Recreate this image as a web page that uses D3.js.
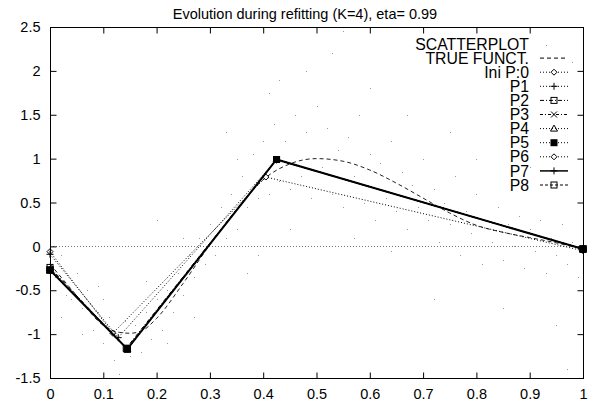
<!DOCTYPE html>
<html><head><meta charset="utf-8">
<script src="https://cdn.jsdelivr.net/npm/d3@7"></script>
<style>
body{margin:0;background:#fff;}
text{font-family:"Liberation Sans",Arial,sans-serif;font-size:14.5px;fill:#000;}
</style></head>
<body><svg id="c" width="597" height="405"></svg>
<script>
const xTicks=[0,0.1,0.2,0.3,0.4,0.5,0.6,0.7,0.8,0.9,1];
const yTicks=[-1.5,-1,-0.5,0,0.5,1,1.5,2,2.5];
const xTickLabels=["0","0.1","0.2","0.3","0.4","0.5","0.6","0.7","0.8","0.9","1"];
const yTickLabels=["-1.5","-1","-0.5","0","0.5","1","1.5","2","2.5"];

const trueX=[0,0.05,0.1,0.13,0.15,0.17,0.2,0.25,0.3,0.35,0.4,0.45,0.5,0.55,0.6,0.65,0.7,0.75,0.8,0.85,0.9,0.95,1.0];
const trueY=[-0.2,-0.56,-0.9,-0.98,-0.99,-0.97,-0.82,-0.42,0.02,0.42,0.76,0.94,1.0,0.97,0.87,0.72,0.55,0.38,0.24,0.16,0.1,0.04,-0.03];

const knotX0=[0,0.118,0.405,1];   const knotY0=[-0.06,-0.99,0.79,-0.05];
const knotX1=[0,0.128,0.425,1];   const knotY1=[-0.09,-1.04,0.985,-0.03];
const knotX2=[0,0.143,0.425,1];   const knotY2=[-0.24,-1.16,0.99,-0.03];
const knotX3=[0,0.144,0.425,1];   const knotY3=[-0.26,-1.165,0.99,-0.03];
const knotX4=[0,0.145,0.425,1];   const knotY4=[-0.27,-1.17,0.99,-0.03];
const knotX5=[0,0.145,0.425,1];   const knotY5=[-0.27,-1.17,0.99,-0.03];
const knotX6=[0,0.145,0.425,1];   const knotY6=[-0.27,-1.17,0.99,-0.03];
const knotX7=[0,0.145,0.425,1];   const knotY7=[-0.27,-1.17,0.99,-0.03];
const knotX8=[0,0.145,0.425,1];   const knotY8=[-0.27,-1.17,0.99,-0.03];

const seriesNames=["Ini P:0","P1","P2","P3","P4","P5","P6","P7","P8"];

const scatterX=[0.01,0.02,0.03,0.04,0.05,0.06,0.07,0.08,0.09,0.1,0.11,0.12,0.13,0.14,0.15,0.02,0.06,0.09,0.13,0.1,
0.16,0.17,0.18,0.19,0.2,0.21,0.22,0.23,0.24,0.25,0.26,0.27,0.28,0.29,0.3,0.18,0.22,0.25,0.27,0.2,
0.31,0.32,0.33,0.34,0.35,0.36,0.37,0.38,0.39,0.4,0.41,0.42,0.43,0.44,0.45,0.46,0.47,0.48,0.49,0.5,0.33,0.37,0.41,0.45,0.48,0.35,0.43,0.39,
0.51,0.52,0.53,0.54,0.55,0.56,0.57,0.58,0.59,0.6,0.61,0.62,0.63,0.64,0.65,0.66,0.67,0.68,0.69,0.7,0.53,0.57,0.6,0.64,0.67,0.55,
0.71,0.72,0.73,0.74,0.75,0.76,0.77,0.78,0.79,0.8,0.81,0.82,0.83,0.84,0.85,0.86,0.87,0.88,0.89,0.9,0.91,0.92,0.93,0.94,0.95,0.96,0.97,0.98,0.99,0.75,0.8,0.85,0.9,0.95,0.72,0.97,0.88,0.93,0.98];
const scatterY=[-0.35,-0.1,-0.55,-0.6,-0.3,-0.7,-0.5,-0.95,-0.75,-1.1,-0.8,-1.3,-1.05,-0.85,-1.25,-0.8,-1.0,-0.45,-1.45,-0.6,
-0.9,-1.2,-0.75,-1.05,-0.6,-0.95,-0.5,-0.75,-0.3,-0.55,-0.1,-0.35,0.1,-0.2,0.25,-0.4,-1.1,0.1,-0.8,0.3,
-0.1,0.45,0.1,0.6,0.2,0.8,0.45,1.05,0.55,1.2,0.6,1.4,0.75,1.2,0.65,1.5,0.8,1.3,0.55,1.6,1.3,-0.3,1.75,0.2,2.0,1.0,1.9,-0.1,
0.9,1.35,0.6,1.1,0.45,1.25,0.8,1.5,0.5,1.05,0.3,0.95,0.55,1.2,0.4,0.85,0.2,0.7,0.45,1.0,2.2,0.1,1.8,-0.05,1.5,2.45,
0.3,0.65,0.05,0.5,0.25,0.8,-0.1,0.4,0.15,0.6,-0.2,0.3,0.05,0.45,-0.15,0.25,0.0,0.35,-0.25,0.2,-0.05,0.3,-0.3,0.1,-0.1,0.25,-0.2,0.05,-0.35,1.3,1.0,-0.7,0.9,-0.9,-0.6,-1.4,1.6,2.3,2.1];

const L=50,R=583,T=27,B=378;
const x=d3.scaleLinear().domain([0,1]).range([L,R]);
const y=d3.scaleLinear().domain([-1.5,2.5]).range([B,T]);
const svg=d3.select("#c");

svg.append("text").attr("x",305).attr("y",19).attr("text-anchor","middle")
  .text("Evolution during refitting (K=4), eta= 0.99");

svg.append("line").attr("x1",L).attr("x2",R).attr("y1",Math.round(y(0))+0.5).attr("y2",Math.round(y(0))+0.5)
  .attr("stroke","#777").attr("stroke-width",1).attr("stroke-dasharray","1,2");

svg.append("g").selectAll("rect").data(scatterX.map((d,i)=>[d,scatterY[i]])).join("rect")
  .attr("x",d=>Math.round(x(d[0]))).attr("y",d=>Math.round(y(d[1])))
  .attr("width",1).attr("height",1).attr("fill","#999");

const line=d3.line().x(d=>x(d[0])).y(d=>y(d[1]));
const trueData=trueX.map((d,i)=>[d,trueY[i]]);
const cur=d3.line().x(d=>x(d[0])).y(d=>y(d[1])).curve(d3.curveMonotoneX);
svg.append("path").attr("d",cur(trueData)).attr("fill","none").attr("stroke","#222")
  .attr("stroke-width",1).attr("stroke-dasharray","4,3");

const knotsX=[knotX0,knotX1,knotX2,knotX3,knotX4,knotX5,knotX6,knotX7,knotX8];
const knotsY=[knotY0,knotY1,knotY2,knotY3,knotY4,knotY5,knotY6,knotY7,knotY8];
const styles=[
 {dash:"1,2",w:1,m:"diamond"},
 {dash:"1,2",w:1,m:"plus"},
 {dash:"4,2,1,2",w:1,m:"square"},
 {dash:"3,2,1,2",w:1,m:"cross"},
 {dash:"1,2",w:1,m:"triangle"},
 {dash:"1,2",w:1,m:"fsquare"},
 {dash:"1,2",w:1,m:"diamond"},
 {dash:null,w:2,m:"plus"},
 {dash:"3,2",w:1,m:"square"}
];

function marker(g,m,cx,cy){
  if(m==="diamond"){g.append("path").attr("d",`M${cx},${cy-3}L${cx+3},${cy}L${cx},${cy+3}L${cx-3},${cy}Z`).attr("fill","#fff").attr("stroke","#000");}
  else if(m==="plus"){g.append("path").attr("d",`M${cx-3.5},${cy}H${cx+3.5}M${cx},${cy-3.5}V${cy+3.5}`).attr("stroke","#000");}
  else if(m==="square"){g.append("rect").attr("x",cx-3).attr("y",cy-3).attr("width",6).attr("height",6).attr("fill","none").attr("stroke","#000");}
  else if(m==="fsquare"){g.append("rect").attr("x",cx-3.5).attr("y",cy-3.5).attr("width",7).attr("height",7).attr("fill","#000");}
  else if(m==="cross"){g.append("path").attr("d",`M${cx-3},${cy-3}L${cx+3},${cy+3}M${cx-3},${cy+3}L${cx+3},${cy-3}`).attr("stroke","#000");}
  else if(m==="triangle"){g.append("path").attr("d",`M${cx},${cy-3.5}L${cx+3.5},${cy+2.5}L${cx-3.5},${cy+2.5}Z`).attr("fill","none").attr("stroke","#000");}
}

knotsX.forEach((kx,i)=>{
  const data=kx.map((d,j)=>[d,knotsY[i][j]]);
  const s=styles[i];
  const p=svg.append("path").attr("d",line(data)).attr("fill","none").attr("stroke","#000").attr("stroke-width",s.w);
  if(s.dash)p.attr("stroke-dasharray",s.dash);
  const g=svg.append("g");
  data.forEach(d=>marker(g,s.m,x(d[0]),y(d[1])));
});
const gk=svg.append("g");
knotX8.forEach((d,j)=>marker(gk,"fsquare",x(d),y(knotY8[j])));

svg.append("rect").attr("x",L+0.5).attr("y",T+0.5).attr("width",R-L).attr("height",B-T)
  .attr("fill","none").attr("stroke","#000");

const tl=6;
const xb=d3.axisBottom(x).tickValues(xTicks).tickFormat((d,i)=>xTickLabels[i]).tickSizeInner(-tl).tickSizeOuter(0).tickPadding(10);
const gx=svg.append("g").attr("transform",`translate(0,${B+0.5})`).call(xb);
const xt=d3.axisTop(x).tickValues(xTicks).tickFormat("").tickSizeInner(-tl).tickSizeOuter(0);
const gxt=svg.append("g").attr("transform",`translate(0,${T+0.5})`).call(xt);
const yl=d3.axisLeft(y).tickValues(yTicks).tickFormat((d,i)=>yTickLabels[i]).tickSizeInner(-tl).tickSizeOuter(0).tickPadding(tl+4);
const gy=svg.append("g").attr("transform",`translate(${L+0.5},0)`).call(yl);
const yr=d3.axisRight(y).tickValues(yTicks).tickFormat("").tickSizeInner(-tl).tickSizeOuter(0);
const gyr=svg.append("g").attr("transform",`translate(${R+0.5},0)`).call(yr);
[gx,gxt,gy,gyr].forEach(g=>{g.select(".domain").remove();g.selectAll("text").attr("font-size",null).attr("font-family",null).style("font-size","14.5px");});

const legendNames=["SCATTERPLOT","TRUE FUNCT."].concat(seriesNames);
const lg=svg.append("g");
legendNames.forEach((n,i)=>{
  const cy=44+14.1*i;
  lg.append("text").attr("x",529).attr("y",cy).attr("dy","0.36em").attr("text-anchor","end")
    .style("font-size","15.8px").text(n);
  if(i===0)return;
  const ln=lg.append("line").attr("x1",540).attr("x2",568).attr("y1",cy).attr("y2",cy).attr("stroke","#000");
  if(i===1){ln.attr("stroke-dasharray","4,3");return;}
  const s=styles[i-2];
  ln.attr("stroke-width",s.w===2?1.5:1);
  if(s.dash)ln.attr("stroke-dasharray",s.dash);
  marker(lg,s.m,554,cy);
});
</script></body></html>
